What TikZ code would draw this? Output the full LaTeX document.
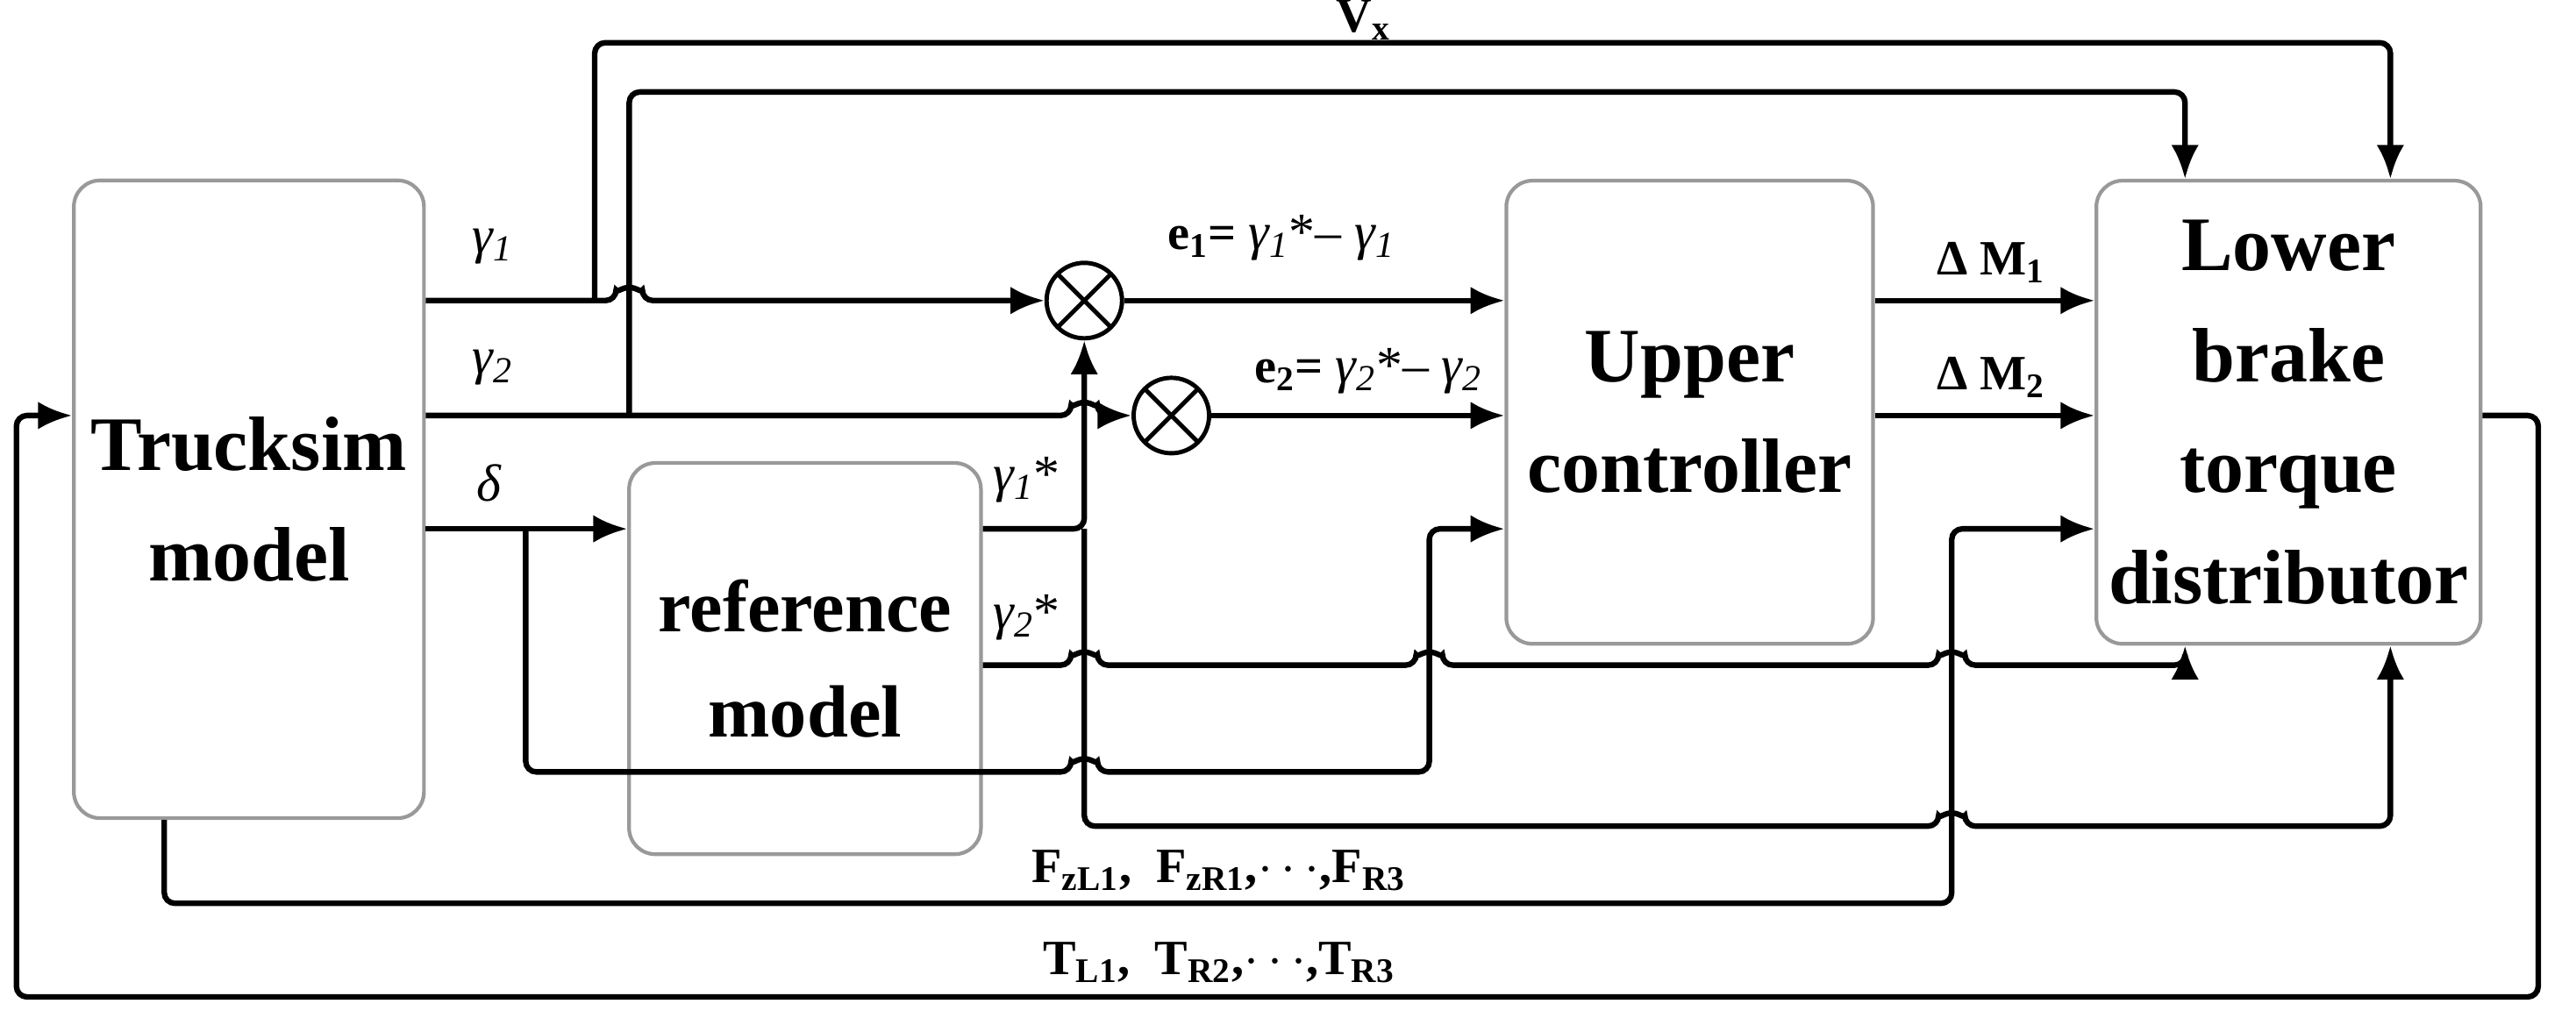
\documentclass[tikz,border=0pt]{standalone}
\usepackage{fontspec}
\setmainfont{Liberation Serif}
\usetikzlibrary{arrows.meta}
\begin{document}
\begin{tikzpicture}[x=0.01873cm,y=-0.01873cm,
  box/.style={draw=gray!80,line width=1.2pt,rounded corners=0.3cm,align=center,font=\fontsize{25}{36}\selectfont\bfseries},
  sum/.style={circle,draw,line width=1.4pt,minimum size=0.86cm,inner sep=0pt,
    path picture={\draw[line width=1.4pt] (path picture bounding box.north west)--(path picture bounding box.south east)
      (path picture bounding box.north east)--(path picture bounding box.south west);}},
  ln/.style={line width=1.8pt,rounded corners=0.12cm},
  arr/.style={ln,-{Latex[length=11pt,width=9pt]}},
  lab/.style={font=\fontsize{17}{20}\selectfont},
  blab/.style={font=\fontsize{16}{19}\selectfont\bfseries}]
\useasboundingbox (0,0) rectangle (1568,628);
\node[box,minimum width=3.99cm,minimum height=7.27cm] (T) at (151.5,304) {Trucksim\\model};
\node[box,minimum width=4.01cm,minimum height=4.46cm,font=\fontsize{24}{34}\selectfont\bfseries] (R) at (490,401) {reference\\model};
\node[box,minimum width=4.18cm,minimum height=5.28cm] (U) at (1028.5,251) {Upper\\controller};
\node[box,minimum width=4.38cm,minimum height=5.28cm] (L) at (1393,251) {Lower\\brake\\torque\\distributor};
\node[sum] (c1) at (660,183) {};
\node[sum] (c2) at (713,253) {};
\coordinate (p1) at (362,183);
\coordinate (p2) at (383,253);
\coordinate (p3) at (320,322);
\coordinate (p4) at (660,322);
% gamma1
\draw[arr] (T.east|-c1) -- (375,183) arc[start angle=180,end angle=360,radius=8] -- (c1.west);
\draw[arr] (p1) -- (362,26) -- (1455,26) -- (1455,0|-L.north);
% gamma2
\draw[arr] (T.east|-c2) -- (652,253) arc[start angle=180,end angle=360,radius=8] -- (c2.west);
\draw[arr] (p2) -- (383,56) -- (1330,56) -- (1330,0|-L.north);
% delta
\draw[arr] (T.east|-p3) -- (R.west|-p3);
\draw[arr] (p3) -- (320,470) -- (652,470) arc[start angle=180,end angle=360,radius=8] -- (870,470) -- (870,322) -- (U.west|-p3);
% gamma1*
\draw[arr] (R.east|-p4) -- (p4) -- (c1.south);
\draw[arr] (p4) -- (660,503) -- (1180,503) arc[start angle=180,end angle=360,radius=8] -- (1455,503) -- (1455,0|-L.south);
% gamma2*
\draw[arr] (R.east|-0,405) -- (652,405) arc[start angle=180,end angle=360,radius=8] -- (862,405) arc[start angle=180,end angle=360,radius=8] -- (1180,405) arc[start angle=180,end angle=360,radius=8] -- (1330,405) -- (1330,0|-L.south);
% F
\draw[arr] (100,0|-T.south) -- (100,550) -- (1188,550) -- (1188,322) -- (L.west|-p3);
% T feedback
\draw[arr] (L.east|-c2) -- (1545,253) -- (1545,607) -- (10,607) -- (10,253) -- (T.west|-c2);
% errors
\draw[arr] (c1.east) -- (U.west|-c1);
\draw[arr] (c2.east) -- (U.west|-c2);
\draw[arr] (U.east|-c1) -- (L.west|-c1);
\draw[arr] (U.east|-c2) -- (L.west|-c2);
% labels
\node[lab] at (300,150) {\textit{γ\textsubscript{1}}};
\node[lab] at (300,224) {\textit{γ\textsubscript{2}}};
\node[lab] at (298,294) {\textit{δ}};
\node[lab] at (625,292) {\textit{γ\textsubscript{1}}*};
\node[lab] at (625,376) {\textit{γ\textsubscript{2}}*};
\node[blab] at (780,145) {e\textsubscript{1}= \textmd{\fontsize{17}{20}\selectfont\textit{γ\textsubscript{1}}*– \textit{γ\textsubscript{1}}}};
\node[blab] at (833,226) {e\textsubscript{2}= \textmd{\fontsize{17}{20}\selectfont\textit{γ\textsubscript{2}}*– \textit{γ\textsubscript{2}}}};
\node[blab] at (1212,160) {Δ M\textsubscript{1}};
\node[blab] at (1212,230) {Δ M\textsubscript{2}};
\node[blab] at (830,12) {V\textsubscript{x}};
\node[blab] at (742,530) {F\textsubscript{zL1}, \ F\textsubscript{zR1},$\cdots$,F\textsubscript{R3}};
\node[blab] at (742,586) {T\textsubscript{L1}, \ T\textsubscript{R2},$\cdots$,T\textsubscript{R3}};
\end{tikzpicture}
\end{document}
